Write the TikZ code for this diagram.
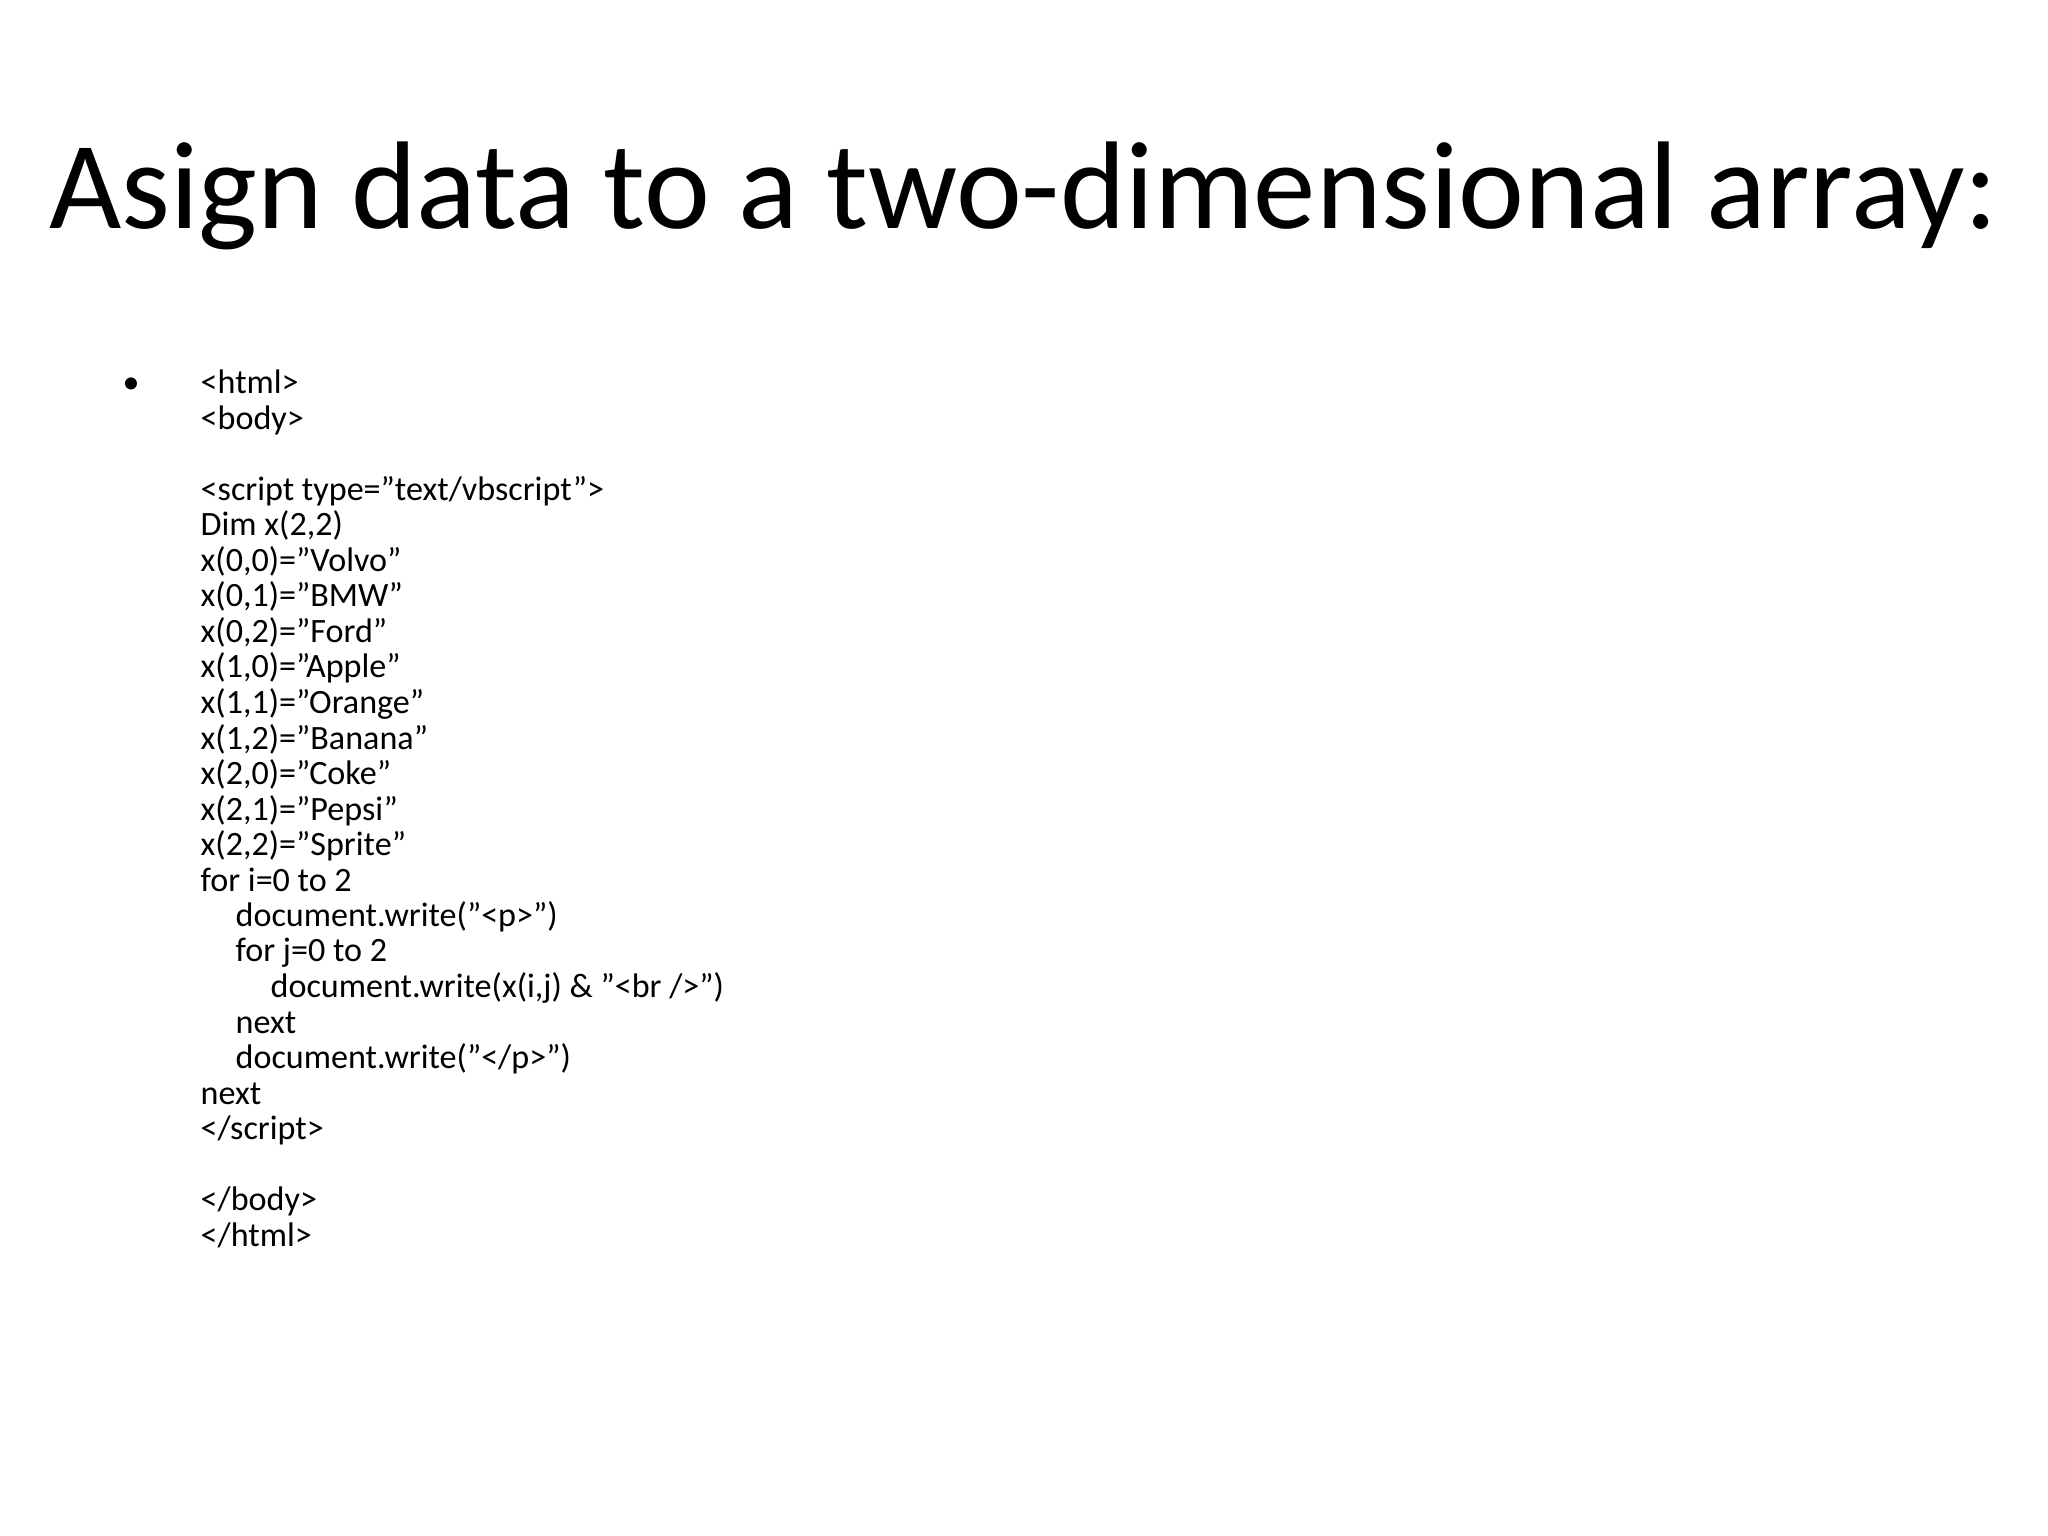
\documentclass[tikz,border=0pt]{standalone}
\usepackage{fontspec}
\setmainfont{Carlito}
\begin{document}
\begin{tikzpicture}[
  code/.style={anchor=base west,inner sep=0pt,font=\fontsize{9.7pt}{10.1pt}\selectfont},
  ttl/.style={anchor=base,inner sep=0pt,font=\fontsize{35.5pt}{40pt}\selectfont}]
\useasboundingbox[fill=white] (0,0) rectangle (20.48,-15.36);
\node[ttl] (title) at (10.24,-2.29) {Asign data to a two-dimensional array:};
\node[code] (bul) at (1.22,-3.94) {•};
\def\ia{\hspace{0.35cm}}
\node[code] (l1) at (2.0,-3.94) {<html>};
\node[code] (l2) at (2.0,-4.295) {<body>};
\node[code] (l4) at (2.0,-5.005) {<script type="text/vbscript">};
\node[code] (l5) at (2.0,-5.36) {Dim x(2,2)};
\node[code] (l6) at (2.0,-5.715) {x(0,0)="Volvo"};
\node[code] (l7) at (2.0,-6.07) {x(0,1)="BMW"};
\node[code] (l8) at (2.0,-6.425) {x(0,2)="Ford"};
\node[code] (l9) at (2.0,-6.78) {x(1,0)="Apple"};
\node[code] (l10) at (2.0,-7.135) {x(1,1)="Orange"};
\node[code] (l11) at (2.0,-7.49) {x(1,2)="Banana"};
\node[code] (l12) at (2.0,-7.845) {x(2,0)="Coke"};
\node[code] (l13) at (2.0,-8.2) {x(2,1)="Pepsi"};
\node[code] (l14) at (2.0,-8.555) {x(2,2)="Sprite"};
\node[code] (l15) at (2.0,-8.91) {for i=0 to 2};
\node[code] (l16) at (2.35,-9.265) {document.write("<p>")};
\node[code] (l17) at (2.35,-9.62) {for j=0 to 2};
\node[code] (l18) at (2.70,-9.975) {document.write(x(i,j) \& "<br />")};
\node[code] (l19) at (2.35,-10.33) {next};
\node[code] (l20) at (2.35,-10.685) {document.write("</p>")};
\node[code] (l21) at (2.0,-11.04) {next};
\node[code] (l22) at (2.0,-11.395) {</script>};
\node[code] (l24) at (2.0,-12.105) {</body>};
\node[code] (l25) at (2.0,-12.46) {</html>};
\end{tikzpicture}
\end{document}
